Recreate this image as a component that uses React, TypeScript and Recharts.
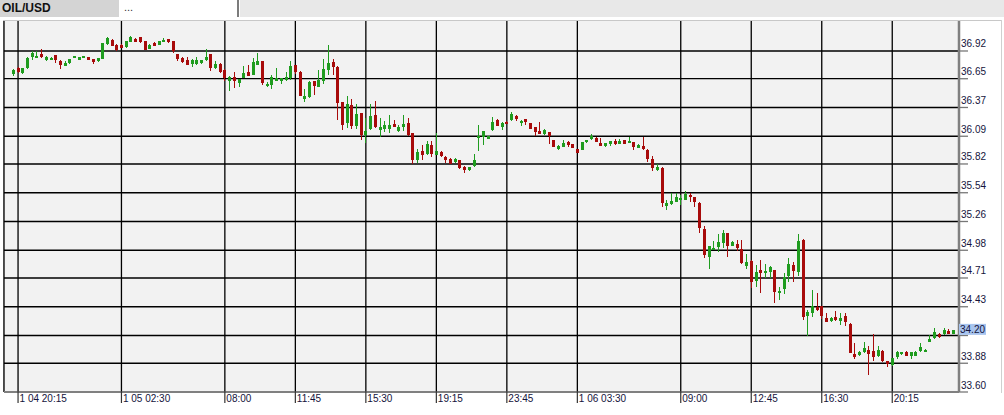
import React from "react";
import { ComposedChart, Bar, XAxis, YAxis, CartesianGrid } from "recharts";

// 15-minute candles, OIL/USD
const OPEN = [
  36.7, 36.75, 36.706, 36.75, 36.86, 36.855, 36.894, 36.83, 36.835, 36.88,
  36.82, 36.775, 36.8, 36.855, 36.835, 36.855, 36.86, 36.84, 36.82, 36.845,
  36.99, 37.03, 36.98, 36.978, 36.956, 37.01, 37.04, 37.056, 37.015, 36.94,
  37.0, 36.98, 37.01, 37.036, 37.015, 36.89, 36.855, 36.835, 36.79, 36.79,
  36.8, 36.83, 36.89, 36.75, 36.795, 36.735, 36.625, 36.67, 36.61, 36.66,
  36.72, 36.69, 36.787, 36.82, 36.576, 36.59, 36.63, 36.63, 36.635, 36.66,
  36.78, 36.72, 36.453, 36.472, 36.628, 36.573, 36.63, 36.738, 36.813, 36.764,
  36.42, 36.219, 36.397, 36.187, 36.316, 36.1, 36.164, 36.297, 36.153, 36.163,
  36.165, 36.21, 36.14, 36.183, 36.22, 36.12, 35.86, 35.943, 35.92, 36.008,
  35.91, 35.94, 35.888, 35.87, 35.835, 35.858, 35.795, 35.76, 35.797, 36.08,
  36.087, 36.066, 36.15, 36.248, 36.18, 36.232, 36.248, 36.287, 36.222, 36.255,
  36.216, 36.177, 36.14, 36.11, 36.128, 36.05, 35.963, 35.99, 36.037, 36.01,
  35.966, 35.96, 36.03, 36.06, 36.075, 36.027, 35.995, 36.01, 36.04, 36.015,
  36.05, 36.03, 36.034, 35.978, 35.998, 35.96, 35.87, 35.76, 35.784, 35.414,
  35.43, 35.45, 35.47, 35.47, 35.52, 35.498, 35.443, 35.187, 34.917, 34.988,
  35.01, 35.05, 35.145, 35.024, 35.04, 34.99, 34.83, 34.878, 34.68, 34.788,
  34.765, 34.772, 34.788, 34.56, 34.6, 34.732, 34.836, 34.77, 35.08, 34.34,
  34.372, 34.43, 34.437, 34.32, 34.29, 34.33, 34.29, 34.34, 34.262, 33.97,
  33.957, 33.99, 34.01, 34.0, 33.947, 34.0, 33.9, 33.86, 33.937, 33.966,
  33.99, 33.955, 33.955, 33.995, 33.994, 34.087, 34.13, 34.165, 34.16, 34.196,
  34.164,
];
const HIGH = [
  36.745, 36.76, 36.755, 36.86, 36.917, 36.92, 36.94, 36.87, 36.865, 36.885,
  36.83, 36.82, 36.845, 36.875, 36.865, 36.875, 36.865, 36.845, 36.855, 37.0,
  37.06, 37.04, 36.985, 36.985, 37.02, 37.07, 37.045, 37.06, 37.02, 36.985,
  37.005, 37.02, 37.05, 37.04, 37.02, 36.895, 36.86, 36.865, 36.84, 36.865,
  36.835, 36.94, 36.895, 36.82, 36.8, 36.74, 36.675, 36.72, 36.65, 36.77,
  36.78, 36.85, 36.9, 36.825, 36.62, 36.69, 36.75, 36.66, 36.72, 36.82,
  36.785, 36.725, 36.55, 36.63, 36.632, 36.738, 36.845, 36.98, 36.845, 36.77,
  36.425, 36.48, 36.45, 36.4, 36.32, 36.27, 36.404, 36.436, 36.27, 36.24,
  36.3, 36.245, 36.2, 36.3, 36.265, 36.125, 35.97, 36.0, 36.04, 36.04,
  36.12, 35.945, 35.893, 35.875, 35.875, 35.862, 35.8, 35.795, 35.92, 36.197,
  36.145, 36.095, 36.28, 36.255, 36.225, 36.24, 36.33, 36.292, 36.245, 36.26,
  36.22, 36.18, 36.225, 36.16, 36.13, 36.055, 36.0, 36.05, 36.04, 36.015,
  35.97, 36.035, 36.055, 36.11, 36.08, 36.07, 36.025, 36.047, 36.065, 36.06,
  36.055, 36.086, 36.038, 36.01, 36.08, 35.965, 35.9, 35.82, 35.79, 35.47,
  35.54, 35.535, 35.52, 35.56, 35.535, 35.503, 35.448, 35.22, 35.025, 35.07,
  35.14, 35.18, 35.15, 35.068, 35.08, 35.08, 34.94, 34.882, 34.84, 34.89,
  34.85, 34.83, 34.792, 34.62, 34.755, 34.9, 34.87, 35.135, 35.085, 34.4,
  34.593, 34.56, 34.44, 34.37, 34.335, 34.39, 34.37, 34.37, 34.267, 34.075,
  33.995, 34.09, 34.05, 34.162, 34.05, 34.005, 33.905, 33.935, 34.0, 33.99,
  33.995, 33.99, 33.995, 34.08, 34.015, 34.155, 34.22, 34.17, 34.22, 34.21,
  34.205,
];
const LOW = [
  36.68, 36.71, 36.7, 36.74, 36.83, 36.85, 36.855, 36.82, 36.83, 36.8,
  36.745, 36.77, 36.795, 36.85, 36.83, 36.85, 36.83, 36.79, 36.815, 36.84,
  36.98, 36.965, 36.917, 36.945, 36.95, 37.005, 37.005, 37.0, 36.925, 36.935,
  36.965, 36.975, 37.005, 37.0, 36.9, 36.82, 36.8, 36.78, 36.765, 36.785,
  36.795, 36.825, 36.73, 36.745, 36.71, 36.63, 36.53, 36.56, 36.57, 36.655,
  36.675, 36.685, 36.78, 36.59, 36.566, 36.55, 36.625, 36.6, 36.63, 36.64,
  36.7, 36.48, 36.42, 36.465, 36.495, 36.57, 36.6, 36.69, 36.69, 36.25,
  36.154, 36.17, 36.16, 36.165, 36.056, 36.02, 36.155, 36.17, 36.083, 36.13,
  36.12, 36.18, 36.13, 36.14, 36.095, 35.82, 35.83, 35.86, 35.91, 35.885,
  35.905, 35.885, 35.825, 35.815, 35.83, 35.775, 35.73, 35.755, 35.79, 35.95,
  36.0, 36.06, 36.145, 36.19, 36.15, 36.21, 36.24, 36.24, 36.19, 36.2,
  36.16, 36.09, 36.11, 36.105, 36.01, 35.985, 35.958, 35.985, 35.985, 35.975,
  35.925, 35.955, 36.025, 36.055, 36.032, 35.993, 35.99, 35.995, 36.008, 36.01,
  36.013, 36.025, 35.96, 35.973, 35.958, 35.84, 35.75, 35.755, 35.404, 35.37,
  35.42, 35.445, 35.42, 35.465, 35.45, 35.4, 35.15, 34.908, 34.8, 34.983,
  34.96, 35.0, 34.917, 35.02, 34.97, 34.85, 34.8, 34.61, 34.62, 34.567,
  34.71, 34.71, 34.47, 34.5, 34.55, 34.67, 34.67, 34.73, 34.3, 34.15,
  34.33, 34.39, 34.31, 34.28, 34.285, 34.29, 34.25, 34.24, 33.975, 33.92,
  33.952, 33.98, 33.765, 33.9, 33.943, 33.895, 33.84, 33.85, 33.92, 33.962,
  33.95, 33.925, 33.95, 33.99, 33.99, 34.082, 34.12, 34.13, 34.155, 34.16,
  34.16,
];
const CLOSE = [
  36.735, 36.72, 36.75, 36.85, 36.9, 36.875, 36.86, 36.86, 36.855, 36.835,
  36.78, 36.806, 36.84, 36.87, 36.86, 36.87, 36.835, 36.81, 36.85, 36.998,
  37.05, 36.97, 36.93, 36.95, 37.015, 37.056, 37.01, 37.008, 36.93, 36.98,
  36.97, 37.015, 37.03, 37.005, 36.917, 36.84, 36.81, 36.787, 36.835, 36.835,
  36.83, 36.865, 36.755, 36.797, 36.716, 36.657, 36.67, 36.625, 36.65, 36.71,
  36.68, 36.81, 36.826, 36.61, 36.6, 36.667, 36.66, 36.655, 36.667, 36.777,
  36.712, 36.485, 36.482, 36.615, 36.58, 36.64, 36.745, 36.803, 36.764, 36.414,
  36.203, 36.404, 36.19, 36.307, 36.105, 36.145, 36.287, 36.177, 36.177, 36.2,
  36.2, 36.183, 36.177, 36.21, 36.1, 35.856, 35.937, 35.91, 36.015, 35.92,
  35.943, 35.9, 35.86, 35.82, 35.868, 35.78, 35.76, 35.79, 35.86, 36.092,
  36.14, 36.09, 36.23, 36.193, 36.22, 36.212, 36.304, 36.255, 36.241, 36.226,
  36.163, 36.134, 36.115, 36.154, 36.092, 35.99, 35.998, 36.027, 36.005, 35.98,
  35.93, 36.03, 36.05, 36.092, 36.037, 35.998, 36.02, 36.043, 36.013, 36.047,
  36.018, 36.043, 35.982, 36.005, 35.963, 35.866, 35.778, 35.793, 35.44, 35.443,
  35.46, 35.5, 35.485, 35.525, 35.495, 35.452, 35.2, 34.934, 35.02, 35.005,
  35.057, 35.15, 35.024, 35.063, 35.0, 34.856, 34.868, 34.668, 34.765, 34.755,
  34.782, 34.818, 34.57, 34.585, 34.717, 34.846, 34.78, 35.07, 34.33, 34.38,
  34.44, 34.398, 34.34, 34.285, 34.317, 34.3, 34.317, 34.28, 33.982, 33.944,
  33.99, 34.025, 33.973, 33.94, 34.01, 33.9, 33.87, 33.93, 33.992, 33.985,
  33.955, 33.985, 33.99, 34.035, 34.01, 34.117, 34.187, 34.137, 34.2, 34.163,
  34.2,
];

const TICK_INDEX = [1, 23, 45, 60, 75, 90, 105, 120, 142, 157, 172, 187];
const TICK_LABELS = [
  "1 04 20:15", "1 05 02:30", "08:00", "11:45", "15:30", "19:15",
  "23:45", "1 06 03:30", "09:00", "12:45", "16:30", "20:15",
];
const Y_GRID = [36.92, 36.65, 36.37, 36.09, 35.82, 35.54, 35.26, 34.98, 34.71, 34.43, 34.15, 33.88, 33.6];
const Y_LABELS = ["36.92", "36.65", "36.37", "36.09", "35.82", "35.54", "35.26", "34.98", "34.71", "34.43", "", "33.88", "33.60"];
const LAST_PRICE = 34.2;

const UP = "#1f9c1f";
const DOWN = "#a80b0b";
const FONT = "'Liberation Sans', Arial, sans-serif";

const data = OPEN.map((o, i) => ({
  i,
  open: o,
  high: HIGH[i],
  low: LOW[i],
  close: CLOSE[i],
  range: [LOW[i], HIGH[i]],
}));

function Candle(props: any) {
  const { x, y, width, height, payload } = props;
  if (x == null || y == null) return null;
  const { open, close, high, low } = payload;
  const top = Math.min(y, y + height);
  const bot = Math.max(y, y + height);
  const k = (bot - top) / (high - low);
  const yo = top + (high - open) * k;
  const yc = top + (high - close) * k;
  const cx = Math.floor(x + width / 2);
  const color = close >= open ? UP : DOWN;
  const bTop = Math.round(Math.min(yo, yc));
  const bH = Math.max(2, Math.round(Math.max(yo, yc)) - bTop);
  const wTop = Math.round(top);
  return (
    <g>
      <rect x={cx} y={wTop} width={1} height={Math.max(1, Math.round(bot) - wTop)} fill={color} />
      <rect x={cx - 1} y={bTop} width={3} height={bH} fill={color} />
    </g>
  );
}

function TimeTick(props: any) {
  const { x, y, payload } = props;
  const idx = TICK_INDEX.indexOf(payload.value);
  return (
    <g>
      <line x1={x} x2={x} y1={y - 1} y2={y + 11} stroke="#333" strokeWidth={1.2} />
      <text x={x + 1.5} y={y + 9.5} fontSize={10} fontFamily={FONT} fill="#14143c">
        {TICK_LABELS[idx]}
      </text>
    </g>
  );
}

function PriceTick(props: any) {
  const { x, y, payload } = props;
  const v = payload.value;
  if (v === LAST_PRICE) {
    return (
      <g>
        <rect x={x} y={y - 6.5} width={27} height={11} fill="#a8c4ee" />
        <text x={x + 1} y={y + 3} fontSize={10} fontFamily={FONT} fill="#14143c">
          {LAST_PRICE.toFixed(2)}
        </text>
      </g>
    );
  }
  const label = Y_LABELS[Y_GRID.indexOf(v)];
  return (
    <g>
      <line x1={x} x2={x + 9} y1={y} y2={y} stroke="#777" strokeWidth={1.3} />
      {label ? (
        <text x={x + 2} y={y - 3.5} fontSize={10} fontFamily={FONT} fill="#14143c">
          {label}
        </text>
      ) : null}
    </g>
  );
}

export default function App() {
  return (
    <div style={{ position: "relative", width: 1004, height: 415, background: "#fff", overflow: "hidden", fontFamily: FONT }}>
      <style>{`body{margin:0}`}</style>
      {/* tab strip */}
      <div style={{ position: "absolute", left: 0, top: 0, width: 119, height: 17, background: "#d4d4d4", fontSize: 12, fontWeight: 700, lineHeight: "17px", color: "#111", paddingLeft: 2, boxSizing: "border-box" }}>
        OIL/USD
      </div>
      <div style={{ position: "absolute", left: 121, top: 0, width: 116, height: 17, background: "#fff", fontSize: 11, lineHeight: "15px", color: "#333", paddingLeft: 3, boxSizing: "border-box" }}>
        ...
      </div>
      <div style={{ position: "absolute", left: 237, top: 0, width: 2, height: 17, background: "#7c7c7c" }} />
      <div style={{ position: "absolute", left: 240, top: 0, width: 764, height: 17, background: "#e8e8e8" }} />
      {/* frame */}
      <div style={{ position: "absolute", left: 3, top: 20, width: 999, height: 1, background: "#c8c8c8" }} />
      <div style={{ position: "absolute", left: 3, top: 20, width: 1, height: 372, background: "#c8c8c8" }} />
      <div style={{ position: "absolute", left: 1001, top: 20, width: 1, height: 373, background: "#d0d0d0" }} />
      <div style={{ position: "absolute", left: 0, top: 0 }}>
        <ComposedChart
          width={1004}
          height={415}
          data={data}
          margin={{ top: 21, right: 0, bottom: 0, left: 4 }}
        >
          <CartesianGrid
            stroke="#000"
            strokeWidth={1.3}
            fill="#f2f2f2"
            horizontalValues={Y_GRID}
          />
          <XAxis
            dataKey="i"
            type="category"
            ticks={TICK_INDEX}
            interval={0}
            height={23}
            padding={{ left: 7, right: 3.3 }}
            tickLine={false}
            tickSize={0}
            tickMargin={0}
            axisLine={{ stroke: "#808080", strokeWidth: 2.2 }}
            tick={<TimeTick />}
          />
          <YAxis
            orientation="right"
            width={45}
            domain={[33.6, 37.212]}
            allowDataOverflow
            ticks={[...Y_GRID, LAST_PRICE]}
            interval={0}
            tickLine={false}
            tickSize={0}
            tickMargin={0}
            axisLine={{ stroke: "#808080", strokeWidth: 2.5 }}
            tick={<PriceTick />}
          />
          <Bar dataKey="range" shape={<Candle />} isAnimationActive={false} />
        </ComposedChart>
      </div>
    </div>
  );
}
